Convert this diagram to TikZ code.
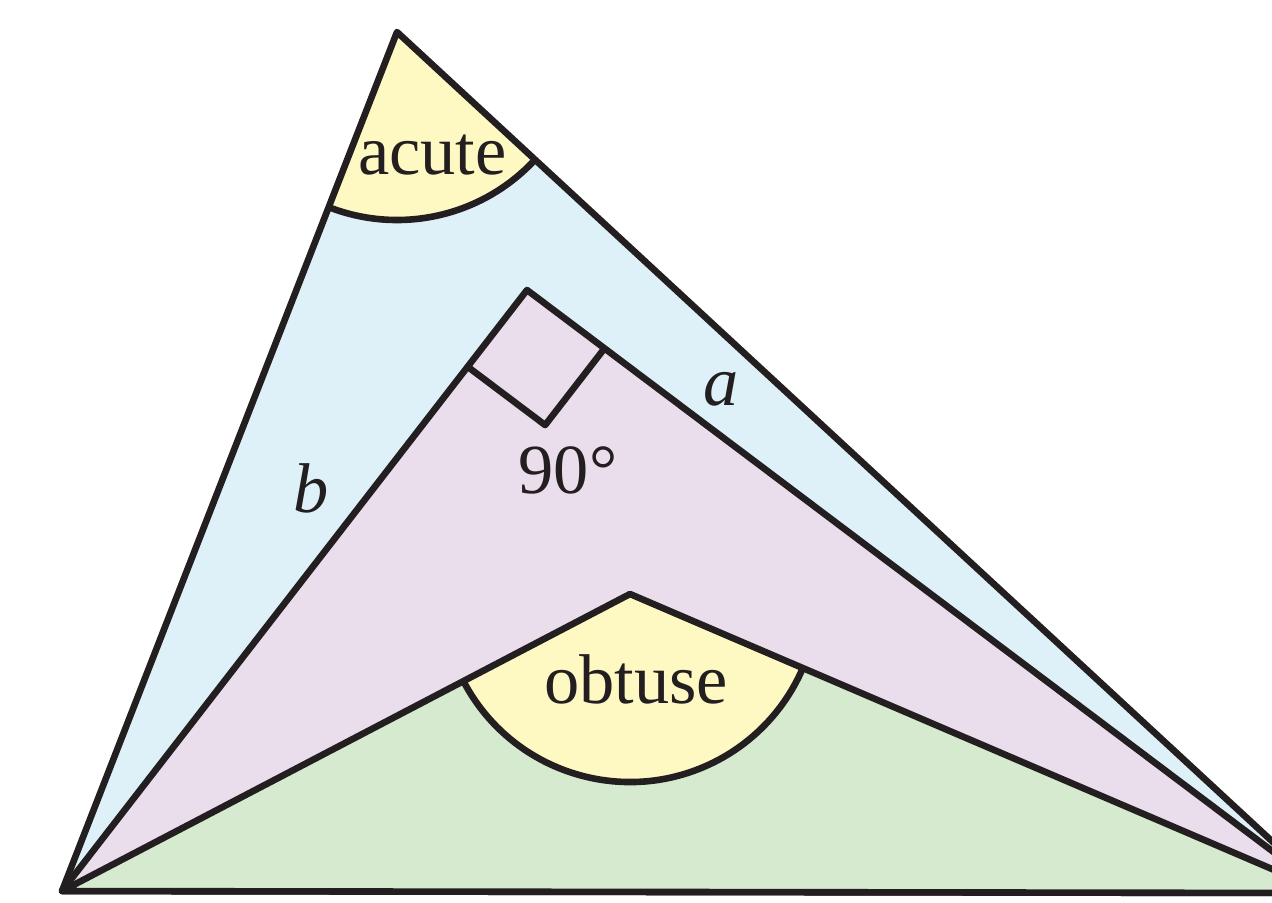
\documentclass[tikz,border=0pt]{standalone}
\usepackage{fontspec}
\setmainfont{Liberation Serif}
\usetikzlibrary{calc}
\definecolor{ink}{HTML}{231F20}
\definecolor{bluefill}{HTML}{DEF1F8}
\definecolor{pinkfill}{HTML}{EBDEEC}
\definecolor{greenfill}{HTML}{D6EAD0}
\definecolor{yellowfill}{HTML}{FEF9C2}
\begin{document}
\begin{tikzpicture}[x=0.5pt,y=0.5pt,
  edge/.style={draw=ink,line width=3.3pt,line join=round},
  lbl/.style={text=ink,font=\fontsize{35.2}{40}\selectfont,anchor=base,inner sep=0pt}]
\useasboundingbox (0,0) rectangle (1272,-902);
\clip (0,0) rectangle (1272,-902);
\coordinate (A) at (62,-891);
\coordinate (B) at (1328,-893);
\coordinate (T) at (397,-32);
\coordinate (P) at (527,-290);
\coordinate (O) at (630,-594);
% acute (blue) triangle
\fill[bluefill] (A) -- (T) -- (B) -- cycle;
\fill[yellowfill] (T) -- ($(T)+(248.68:94pt)$) arc[start angle=248.68,end angle=317.28,radius=94pt] -- cycle;
\draw[edge] (A) -- (T) -- (B);
\draw[edge] ($(T)+(248.68:94pt)$) arc[start angle=248.68,end angle=317.28,radius=94pt];
% right (pink) triangle
\path[edge,fill=pinkfill] (A) -- (P) -- (B) -- cycle;
\coordinate (M1) at ($(P)!48.5pt!(A)$);
\coordinate (M2) at ($(P)!48.5pt!(B)$);
\coordinate (MC) at ($(M1)+(M2)-(P)$);
\draw[edge] (M1) -- (MC) -- (M2);
% obtuse (green) triangle
\fill[greenfill] (A) -- (O) -- (B) -- cycle;
\fill[yellowfill] (O) -- ($(O)+(207.53:94pt)$) arc[start angle=207.53,end angle=336.88,radius=94pt] -- cycle;
\draw[edge] (A) -- (O) -- (B) -- (A) -- cycle;
\draw[edge] ($(O)+(207.53:94pt)$) arc[start angle=207.53,end angle=336.88,radius=94pt];
% labels
\node[lbl] (acute) at (432.5,-174) {acute};
\node[lbl] (obtuse) at (636,-703) {obtuse};
\node[lbl] (right) at (568,-493) {90°};
\node[lbl,font=\fontsize{35.2}{40}\selectfont\itshape] (sb) at (311,-512) {b};
\node[lbl,font=\fontsize{35.2}{40}\selectfont\itshape] (sa) at (721,-405) {a};
\end{tikzpicture}
\end{document}
